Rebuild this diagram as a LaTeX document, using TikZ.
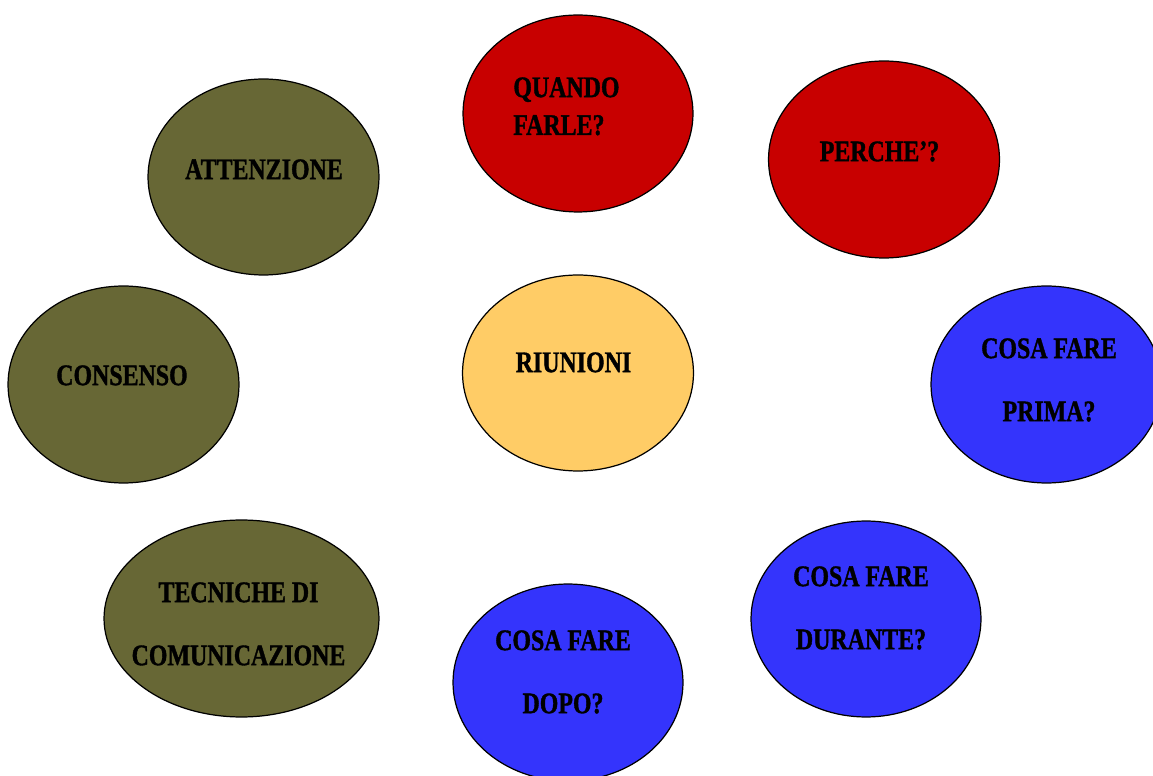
\documentclass[tikz,border=0pt]{standalone}
\usepackage{fontspec}
\setmainfont{Liberation Serif}[FakeStretch=0.8,BoldFeatures={FakeBold=1.2}]
\definecolor{olivegreen}{HTML}{676735}
\definecolor{bubblered}{HTML}{C80000}
\definecolor{bubbleblue}{HTML}{3434FC}
\definecolor{bubbleorange}{HTML}{FFCC66}
\begin{document}
\begin{tikzpicture}[x=0.02cm,y=-0.02cm,
	bubble/.style={draw=black,line width=0.7pt},
	lbl/.style={inner sep=0pt,font=\fontsize{17}{21.5}\selectfont\bfseries,align=center}]
				\clip (0,0) rectangle (1153,776);
				\fill[white] (0,0) rectangle (1153,776);
				\filldraw[bubble,fill=olivegreen] (263.5,177) ellipse (2.31cm and 1.96cm);
				\filldraw[bubble,fill=bubblered] (578,113.5) ellipse (2.3cm and 1.97cm);
				\filldraw[bubble,fill=bubblered] (884,159.5) ellipse (2.31cm and 1.97cm);
				\filldraw[bubble,fill=olivegreen] (123.5,384.5) ellipse (2.31cm and 1.97cm);
				\filldraw[bubble,fill=bubbleorange] (578,373) ellipse (2.31cm and 1.96cm);
				\filldraw[bubble,fill=bubbleblue] (1046.5,384.5) ellipse (2.31cm and 1.97cm);
				\filldraw[bubble,fill=olivegreen] (241.5,618.5) ellipse (2.75cm and 1.97cm);
				\filldraw[bubble,fill=bubbleblue] (568,682.5) ellipse (2.3cm and 1.97cm);
				\filldraw[bubble,fill=bubbleblue] (866,619) ellipse (2.3cm and 1.96cm);
				\node[lbl,anchor=north] (attenzione) at (264,159) {ATTENZIONE};
				\node[lbl,anchor=north west,align=left] (quando) at (513,77) {QUANDO\\FARLE?};
				\node[lbl,anchor=north] (perche) at (879.5,141) {PERCHE’?};
				\node[lbl,anchor=north] (consenso) at (122,365) {CONSENSO};
				\node[lbl,anchor=north] (riunioni) at (573.5,352) {RIUNIONI};
				\node[lbl,anchor=north] (prima) at (1049,338) {COSA FARE\\[14.4pt]PRIMA?};
				\node[lbl,anchor=north] (tecniche) at (238.5,582) {TECNICHE DI\\[14.4pt]COMUNICAZIONE};
				\node[lbl,anchor=north] (dopo) at (563,630) {COSA FARE\\[14.4pt]DOPO?};
				\node[lbl,anchor=north] (durante) at (861,566) {COSA FARE\\[14.4pt]DURANTE?};
			\end{tikzpicture}
\end{document}
